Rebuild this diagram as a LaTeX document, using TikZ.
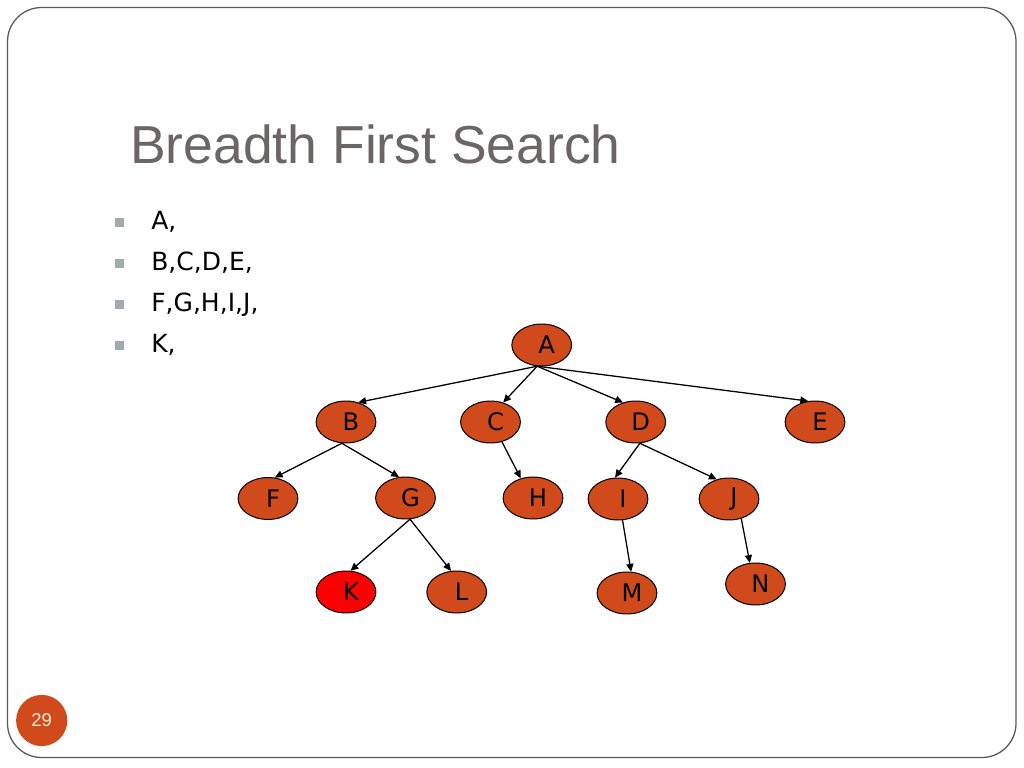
\documentclass[tikz,border=0pt]{standalone}
\usepackage{fontspec}
\setmainfont{DejaVu Sans}
\newfontfamily\titlefont{Liberation Sans}
\usepackage{tikz}
\usetikzlibrary{shapes.geometric}
\usetikzlibrary{arrows.meta}

\definecolor{nodefill}{RGB}{209,74,28}
\definecolor{titlegray}{RGB}{107,101,102}
\definecolor{bulletgray}{RGB}{158,172,172}
\definecolor{framegray}{RGB}{90,90,90}
\definecolor{numcream}{RGB}{253,236,214}

\begin{document}
\begin{tikzpicture}[x=0.703125pt,y=-0.703125pt,
        vtx/.style={ellipse,draw=black,line width=0.7pt,fill=nodefill,inner sep=0pt,
            minimum width=42pt,minimum height=29.5pt,font=\fontsize{17}{20}\selectfont,
            execute at begin node={\hspace*{7pt}}},
        edge/.style={line width=0.9pt,-{Triangle[length=5.5pt,width=5pt]}}]
            \useasboundingbox (0,0) rectangle (1024,768);
            \fill[white] (0,0) rectangle (1024,768);
            \draw[framegray,line width=0.9pt,rounded corners=24pt] (7.5,7.5) rectangle (1016,757.5);

            \node[anchor=base west,text=titlegray,font=\titlefont\fontsize{37.6}{44}\selectfont,inner sep=0pt]
                (title) at (130,164) {Breadth First Search};

            \foreach \txt [count=\i] in {{A,},{B,C,D,E,},{F,G,H,I,J,},{K,}}{
                \fill[bulletgray] (114.5,{230+40.7*(\i-1)-11.5}) rectangle ++(9,9);
                \node[anchor=base west,inner sep=0pt,font=\fontsize{17.6}{21}\selectfont]
                    (item\i) at (151,{230+40.7*(\i-1)}) {\txt};
            }

            \node[vtx] (A) at (541.7,345) {A};
            \node[vtx] (B) at (346,422) {B};
            \node[vtx] (C) at (490.5,422) {C};
            \node[vtx] (D) at (635.7,422) {D};
            \node[vtx] (E) at (815,422) {E};
            \node[vtx] (F) at (268,498.5) {F};
            \node[vtx] (G) at (405.5,498) {G};
            \node[vtx] (H) at (533,498) {H};
            \node[vtx] (I) at (618,499) {I};
            \node[vtx] (J) at (729,499) {J};
            \node[vtx,fill=red] (K) at (346,592) {K};
            \node[vtx] (L) at (456.7,592) {L};
            \node[vtx] (M) at (627,593) {M};
            \node[vtx] (N) at (755.5,584) {N};

            \draw[edge] (A.258)--(B.58);
            \draw[edge] (A.258)--(C.57);
            \draw[edge] (A.258)--(D.123);
            \draw[edge] (A.258)--(E.108);
            \draw[edge] (B.259)--(F.72);
            \draw[edge] (B.259)--(G.107);
            \draw[edge] (C.300)--(H.122);
            \draw[edge] (D.281)--(I.98);
            \draw[edge] (D.281)--(J.122);
            \draw[edge] (G.282)--(K.78);
            \draw[edge] (G.282)--(L.105);
            \draw[edge] (I.282)--(M.79);
            \draw[edge] (J.302)--(N.105);

            \node[circle,fill=nodefill,minimum size=36pt,inner sep=0pt,text=numcream,
                font=\titlefont\fontsize{13}{15}\selectfont] (page) at (41.7,720.5) {29};
        \end{tikzpicture}
\end{document}
